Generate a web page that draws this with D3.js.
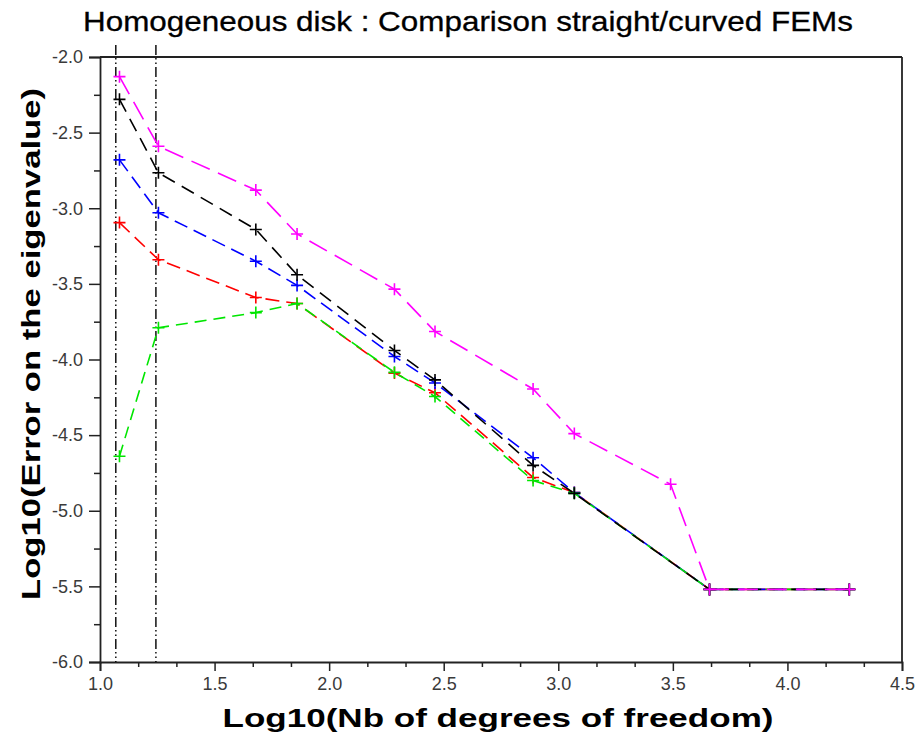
<!DOCTYPE html>
<html>
<head>
<meta charset="utf-8">
<script src="https://cdn.jsdelivr.net/npm/d3@7"></script>
<style>
  html, body { margin: 0; padding: 0; background: #fff; }
  svg { display: block; font-family: "Liberation Sans", Arial, sans-serif; }
</style>
</head>
<body>
<svg id="chart" width="915" height="742"></svg>
<script>
// ---------- data ----------
const titleText = "Homogeneous disk : Comparison straight/curved FEMs";
const xLabelText = "Log10(Nb of degrees of freedom)";
const yLabelText = "Log10(Error on the eigenvalue)";

const xTicks = [1.0, 1.5, 2.0, 2.5, 3.0, 3.5, 4.0, 4.5];
const yTicks = [-2.0, -2.5, -3.0, -3.5, -4.0, -4.5, -5.0, -5.5, -6.0];
const refLines = [1.069, 1.244];

const dofLog        = [1.085, 1.255, 1.68, 1.86, 2.285, 2.462, 2.89, 3.07, 3.66, 4.27];
const dofLogMagenta = [1.085, 1.255, 1.68, 1.86, 2.285, 2.462, 2.89, 3.07, 3.49, 3.66, 4.27];

const redVals     = [-3.095, -3.34, -3.59, -3.63, -4.09, -4.22, -4.78, -4.88, -5.52, -5.52];
const blueVals    = [-2.68, -3.03, -3.35, -3.51, -3.98, -4.155, -4.65, -4.88, -5.52, -5.52];
const greenVals   = [-4.64, -3.79, -3.69, -3.63, -4.085, -4.245, -4.80, -4.885, -5.52, -5.52];
const blackVals   = [-2.28, -2.765, -3.14, -3.44, -3.94, -4.135, -4.70, -4.885, -5.52, -5.52];
const magentaVals = [-2.13, -2.59, -2.88, -3.17, -3.535, -3.815, -4.195, -4.49, -4.825, -5.52, -5.52];

const series = [
  { name: "red",     xs: dofLog,        ys: redVals,     color: "#ff0000", dash: "14,7" },
  { name: "blue",    xs: dofLog,        ys: blueVals,    color: "#0000ff", dash: "14,7" },
  { name: "green",   xs: dofLog,        ys: greenVals,   color: "#00e600", dash: "12,7" },
  { name: "black",   xs: dofLog,        ys: blackVals,   color: "#000000", dash: "14,8" },
  { name: "magenta", xs: dofLogMagenta, ys: magentaVals, color: "#ff00ff", dash: "20,9" }
];

// ---------- layout ----------
const svg = d3.select("#chart");
const pLeft = 100, pRight = 902, pTop = 57, pBottom = 662;

const x = d3.scaleLinear().domain([1.0, 4.5]).range([pLeft, pRight]);
const y = d3.scaleLinear().domain([-6.0, -2.0]).range([pBottom, pTop]);

const axisColor = "#222";
const labelColor = "#3a3a3a";
const fmt = d => d.toFixed(1);

// minor ticks
const xMinor = d3.range(0, 22).map(i => 1.0 + i / 6).filter(v => v <= 4.5001 && !xTicks.some(t => Math.abs(t - v) < 1e-6));
const yMinor = d3.range(0, 17).map(i => -6.0 + i * 0.25).filter(v => !yTicks.some(t => Math.abs(t - v) < 1e-6));

// frame top & right
svg.append("line").attr("x1", pLeft).attr("x2", pRight).attr("y1", pTop).attr("y2", pTop)
  .attr("stroke", axisColor).attr("stroke-width", 1.8);
svg.append("line").attr("x1", pRight).attr("x2", pRight).attr("y1", pTop).attr("y2", pBottom)
  .attr("stroke", axisColor).attr("stroke-width", 1.8);

// y axis
const yAxis = svg.append("g").attr("transform", `translate(${pLeft},0)`)
  .call(d3.axisLeft(y).tickValues(yTicks).tickSize(11).tickPadding(6).tickFormat(fmt));
yAxis.attr("font-size", 18).attr("font-family", "'Liberation Sans', Arial, sans-serif");
yAxis.select(".domain").attr("stroke", axisColor).attr("stroke-width", 1.8);
yAxis.selectAll(".tick line").attr("stroke", axisColor).attr("stroke-width", 1.5);
yAxis.selectAll(".tick text").attr("fill", labelColor);
svg.append("g").attr("transform", `translate(${pLeft},0)`)
  .call(d3.axisLeft(y).tickValues(yMinor).tickSize(6).tickFormat(""))
  .call(g => g.select(".domain").remove())
  .selectAll(".tick line").attr("stroke", axisColor).attr("stroke-width", 1.5);

// x axis
const xAxis = svg.append("g").attr("transform", `translate(0,${pBottom})`)
  .call(d3.axisBottom(x).tickValues(xTicks).tickSize(9).tickPadding(6).tickFormat(fmt));
xAxis.attr("font-size", 18).attr("font-family", "'Liberation Sans', Arial, sans-serif");
xAxis.select(".domain").attr("stroke", axisColor).attr("stroke-width", 1.8);
xAxis.selectAll(".tick line").attr("stroke", axisColor).attr("stroke-width", 1.5);
xAxis.selectAll(".tick text").attr("fill", labelColor);
svg.append("g").attr("transform", `translate(0,${pBottom})`)
  .call(d3.axisBottom(x).tickValues(xMinor).tickSize(5).tickFormat(""))
  .call(g => g.select(".domain").remove())
  .selectAll(".tick line").attr("stroke", axisColor).attr("stroke-width", 1.5);

// reference dash-dot vertical lines
svg.append("g").selectAll("line").data(refLines).join("line")
  .attr("x1", d => x(d)).attr("x2", d => x(d))
  .attr("y1", 45).attr("y2", pBottom)
  .attr("stroke", "#000").attr("stroke-width", 1.4)
  .attr("stroke-dasharray", "10,3,1.5,3,1.5,3");

// series
const line = d3.line().x(d => x(d[0])).y(d => y(d[1]));
const plot = svg.append("g");
series.forEach(s => {
  const pts = s.xs.map((v, i) => [v, s.ys[i]]);
  const g = plot.append("g").attr("class", "series-" + s.name);
  g.append("path").datum(pts)
    .attr("d", line).attr("fill", "none")
    .attr("stroke", s.color).attr("stroke-width", 1.6)
    .attr("stroke-dasharray", s.dash);
  const m = 6;
  g.selectAll("path.marker").data(pts).join("path")
    .attr("class", "marker")
    .attr("d", d => `M${x(d[0]) - m},${y(d[1])}H${x(d[0]) + m}M${x(d[0])},${y(d[1]) - m}V${y(d[1]) + m}`)
    .attr("stroke", s.color).attr("stroke-width", 1.6).attr("fill", "none");
});

// title
svg.append("text").attr("x", 468).attr("y", 31)
  .attr("text-anchor", "middle")
  .attr("textLength", 770).attr("lengthAdjust", "spacingAndGlyphs")
  .style("font-size", "28px").attr("fill", "#000")
  .attr("stroke", "#000").attr("stroke-width", 0.3)
  .text(titleText);

// x label
svg.append("text").attr("x", 498).attr("y", 727)
  .attr("text-anchor", "middle")
  .attr("textLength", 551).attr("lengthAdjust", "spacingAndGlyphs")
  .style("font-size", "25px").style("font-weight", "bold").attr("fill", "#000")
  .text(xLabelText);

// y label
svg.append("text")
  .attr("transform", "translate(40,344) rotate(-90)")
  .attr("text-anchor", "middle")
  .attr("textLength", 512).attr("lengthAdjust", "spacingAndGlyphs")
  .style("font-size", "25px").style("font-weight", "bold").attr("fill", "#000")
  .text(yLabelText);
</script>
</body>
</html>
